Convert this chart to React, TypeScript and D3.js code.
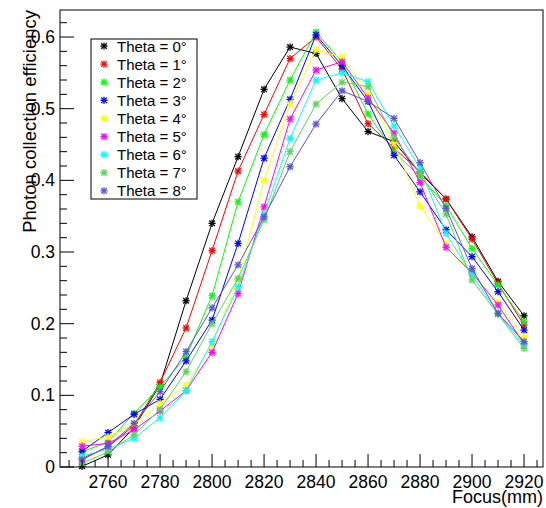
import React from "react";
import * as d3 from "d3";

const focus = [2750, 2760, 2770, 2780, 2790, 2800, 2810, 2820, 2830, 2840, 2850, 2860, 2870, 2880, 2890, 2900, 2910, 2920];

const theta0 = [0.001, 0.017, 0.055, 0.115, 0.232, 0.340, 0.433, 0.527, 0.586, 0.577, 0.514, 0.468, 0.454, 0.410, 0.374, 0.321, 0.259, 0.211];
const theta1 = [0.012, 0.028, 0.058, 0.118, 0.194, 0.302, 0.413, 0.492, 0.570, 0.600, 0.555, 0.479, 0.445, 0.412, 0.374, 0.318, 0.256, 0.198];
const theta2 = [0.021, 0.035, 0.075, 0.112, 0.154, 0.239, 0.370, 0.464, 0.540, 0.607, 0.565, 0.4925, 0.440, 0.405, 0.365, 0.305, 0.254, 0.203];
const theta3 = [0.022, 0.048, 0.0735, 0.0944, 0.148, 0.205, 0.312, 0.431, 0.513, 0.603, 0.560, 0.510, 0.435, 0.384, 0.331, 0.2935, 0.2446, 0.191];
const theta4 = [0.0353, 0.042, 0.060, 0.089, 0.114, 0.170, 0.262, 0.400, 0.507, 0.582, 0.572, 0.520, 0.451, 0.364, 0.312, 0.270, 0.230, 0.182];
const theta5 = [0.029, 0.033, 0.052, 0.078, 0.1065, 0.160, 0.242, 0.363, 0.4855, 0.554, 0.5655, 0.515, 0.466, 0.397, 0.3066, 0.271, 0.226, 0.172];
const theta6 = [0.0153, 0.025, 0.040, 0.0688, 0.1065, 0.175, 0.2516, 0.352, 0.4586, 0.540, 0.550, 0.5377, 0.476, 0.417, 0.326, 0.268, 0.2144, 0.170];
const theta7 = [0.005, 0.021, 0.045, 0.0805, 0.133, 0.200, 0.263, 0.345, 0.440, 0.5065, 0.537, 0.5307, 0.460, 0.410, 0.353, 0.261, 0.213, 0.1656];
const theta8 = [0.0098, 0.029, 0.061, 0.105, 0.161, 0.222, 0.282, 0.349, 0.419, 0.4786, 0.525, 0.510, 0.4865, 0.4246, 0.361, 0.277, 0.2144, 0.175];

const seriesValues = [theta0, theta1, theta2, theta3, theta4, theta5, theta6, theta7, theta8];
const seriesLabels = ["Theta = 0°", "Theta = 1°", "Theta = 2°", "Theta = 3°", "Theta = 4°", "Theta = 5°", "Theta = 6°", "Theta = 7°", "Theta = 8°"];
const seriesColors = ["#000000", "#ff0000", "#00ff00", "#0000ff", "#ffff00", "#ff00ff", "#00ffff", "#59d454", "#5954d8"];

const xTicks = [2760, 2780, 2800, 2820, 2840, 2860, 2880, 2900, 2920];
const yTicks = [0, 0.1, 0.2, 0.3, 0.4, 0.5, 0.6];

const W = 546;
const H = 508;
const L = 60, R = 543, T = 10, B = 467;
const FONT = "'Liberation Sans', Arial, Helvetica, sans-serif";

function Marker({ cx, cy, color }: { cx: number; cy: number; color: string }) {
  const s = 3.6;
  const d = 2.8;
  return (
    <g stroke={color} strokeWidth={1.3}>
      <line x1={cx - s} y1={cy} x2={cx + s} y2={cy} />
      <line x1={cx} y1={cy - s} x2={cx} y2={cy + s} />
      <line x1={cx - d} y1={cy - d} x2={cx + d} y2={cy + d} />
      <line x1={cx - d} y1={cy + d} x2={cx + d} y2={cy - d} />
    </g>
  );
}

export default function App() {
  const x = d3.scaleLinear().domain([2741.5, 2927.3]).range([L, R]);
  const y = d3.scaleLinear().domain([0, 0.6377]).range([B, T]);

  const line = d3
    .line<number>()
    .x((_, i) => x(focus[i]))
    .y((v) => y(v));

  const xMinor = d3.range(2745, 2927.3, 5).filter((v) => v % 20 !== 0);
  const yMinor = d3.range(0, 0.637, 0.02).filter((v) => Math.abs(v * 10 - Math.round(v * 10)) > 1e-6);

  const legX = 91, legY = 39, legW = 106, legH = 160;

  return (
    <svg width={W} height={H} style={{ position: "absolute", left: 0, top: 0, background: "#fff" }} fontFamily={FONT}>
      <rect x={0} y={0} width={W} height={H} fill="#fff" />
      {/* data */}
      {seriesValues.map((vals, si) => (
        <g key={si}>
          <path d={line(vals) || ""} fill="none" stroke={seriesColors[si]} strokeWidth={1} />
          {vals.map((v, i) => (
            <Marker key={i} cx={x(focus[i])} cy={y(v)} color={seriesColors[si]} />
          ))}
        </g>
      ))}
      {/* frame */}
      <rect x={L} y={T} width={R - L} height={B - T} fill="none" stroke="#000" strokeWidth={1} />
      {/* x axis ticks */}
      {xTicks.map((t) => (
        <g key={"xt" + t}>
          <line x1={x(t)} x2={x(t)} y1={B} y2={B - 13} stroke="#000" />
          <text x={x(t)} y={488} fontSize={17.5} textAnchor="middle" fill="#000">{t}</text>
        </g>
      ))}
      {xMinor.map((t) => (
        <line key={"xm" + t} x1={x(t)} x2={x(t)} y1={B} y2={B - 7} stroke="#000" />
      ))}
      {/* y axis ticks */}
      {yTicks.map((t) => (
        <g key={"yt" + t}>
          <line x1={L} x2={L + 14} y1={y(t)} y2={y(t)} stroke="#000" />
          <text x={55} y={y(t) + 6} fontSize={17.5} textAnchor="end" fill="#000">{t === 0 ? "0" : d3.format(".1f")(t)}</text>
        </g>
      ))}
      {yMinor.map((t) => (
        <line key={"ym" + t} x1={L} x2={L + 7} y1={y(t)} y2={y(t)} stroke="#000" />
      ))}
      {/* axis titles */}
      <text x={R} y={503} fontSize={18} textAnchor="end" fill="#000">Focus(mm)</text>
      <text transform={`translate(36, ${T}) rotate(-90)`} fontSize={18.5} textAnchor="end" fill="#000">Photon collection efficiency</text>
      {/* legend */}
      <rect x={legX} y={legY} width={legW} height={legH} fill="#fff" stroke="#000" strokeWidth={1} />
      {seriesLabels.map((lab, i) => {
        const cy = 46 + i * 18.1;
        return (
          <g key={"lg" + i}>
            <Marker cx={104} cy={cy} color={seriesColors[i]} />
            <text x={117} y={cy + 5.5} fontSize={15} fill="#000">{lab}</text>
          </g>
        );
      })}
    </svg>
  );
}
